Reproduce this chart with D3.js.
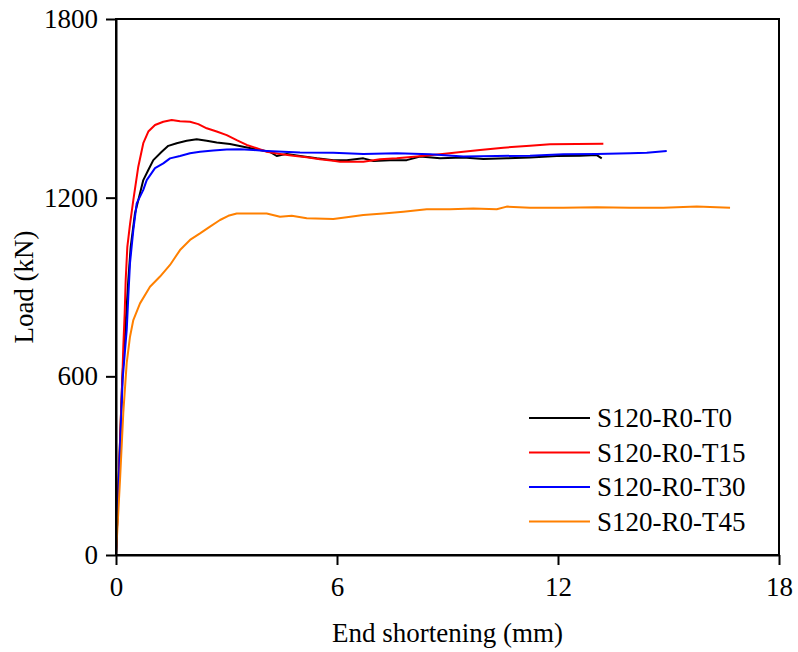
<!DOCTYPE html>
<meta charset="utf-8">
<script src="https://d3js.org/d3.v7.min.js"></script>
<style>
  body { margin: 0; background: #fff; }
  text { font-family: "Liberation Serif", "Times New Roman", serif; }
</style>
<div id="my_dataviz"></div>
<script>
// series names and colours
var names = ["S120-R0-T0", "S120-R0-T15", "S120-R0-T30", "S120-R0-T45"]
var colors = ["#000000", "#ff0000", "#0000ff", "#ff8000"]
var xTicks = [0, 6, 12, 18]
var yTicks = [0, 600, 1200, 1800]

// curves: [end shortening (mm), load (kN)]
var t0 = [[0,0],[0.17,590],[0.334,923],[0.399,1035],[0.516,1148],[0.652,1215],[0.741,1259],[0.877,1293],[1.013,1326],[1.241,1354],[1.42,1374],[1.648,1383],[1.92,1391],[2.191,1396],[2.463,1391],[2.734,1385],[3.095,1380],[3.456,1371],[3.82,1362],[4.181,1354],[4.363,1340],[4.635,1347],[4.996,1340],[5.449,1332],[5.9,1326],[6.264,1326],[6.715,1332],[6.986,1323],[7.44,1326],[7.893,1326],[8.254,1338],[8.797,1332],[9.43,1335],[9.973,1330],[10.608,1332],[11.241,1335],[11.966,1340],[12.599,1341],[13.052,1343],[13.188,1332]]
var t15 = [[0,0],[0.136,477],[0.171,588],[0.198,699],[0.236,813],[0.263,923],[0.307,1034],[0.38,1110],[0.47,1192],[0.605,1304],[0.741,1383],[0.877,1422],[1.059,1444],[1.284,1455],[1.512,1461],[1.738,1457],[2.009,1455],[2.235,1447],[2.463,1433],[2.734,1422],[3.006,1410],[3.277,1393],[3.549,1377],[3.82,1366],[4.092,1354],[4.453,1347],[4.814,1341],[5.178,1336],[5.539,1329],[5.9,1324],[6.082,1321],[6.715,1321],[7.168,1329],[7.622,1332],[8.165,1338],[8.797,1346],[9.43,1354],[9.883,1360],[10.516,1368],[11.241,1374],[11.784,1379],[12.509,1380],[13.231,1381]]
var t30 = [[0,0],[0.18,590],[0.291,756],[0.334,867],[0.38,980],[0.47,1091],[0.562,1181],[0.741,1226],[0.834,1259],[1.059,1299],[1.284,1315],[1.466,1332],[1.738,1340],[2.009,1349],[2.281,1354],[2.642,1358],[3.006,1362],[3.367,1363],[3.728,1360],[4.092,1357],[4.543,1354],[4.996,1352],[5.9,1351],[6.715,1347],[7.622,1349],[8.526,1346],[9.43,1338],[10.337,1340],[11.241,1341],[12.145,1346],[13.052,1347],[13.956,1349],[14.41,1351],[14.952,1357]]
var t45 = [[0,0],[0.109,252],[0.198,477],[0.291,645],[0.38,733],[0.47,789],[0.652,845],[0.923,901],[1.195,935],[1.466,974],[1.738,1024],[2.009,1058],[2.281,1080],[2.552,1103],[2.824,1125],[3.049,1139],[3.277,1147],[3.638,1147],[4.092,1147],[4.453,1136],[4.771,1139],[5.178,1131],[5.9,1128],[6.264,1134],[6.715,1142],[7.258,1147],[7.801,1153],[8.436,1161],[9.069,1161],[9.702,1164],[10.337,1161],[10.608,1170],[11.241,1166],[12.145,1166],[13.052,1168],[13.956,1166],[14.86,1166],[15.767,1170],[16.671,1166]]
var series = [t0, t15, t30, t45]

var width = 798
var height = 652
var margin = {top: 19, right: 19, bottom: 97, left: 116}
var w = width - margin.left - margin.right
var h = height - margin.top - margin.bottom
var serif = '"Liberation Serif", "Times New Roman", serif'

var svg = d3.select("#my_dataviz")
  .append("svg")
  .attr("width", width)
  .attr("height", height)
  .append("g")
  .attr("transform", "translate(" + margin.left + "," + margin.top + ")")

var x = d3.scaleLinear().domain([0, 18]).range([0, w])
var y = d3.scaleLinear().domain([0, 1800]).range([h, 0])

// curves
var line = d3.line()
  .x(function(d) { return x(d[0]) })
  .y(function(d) { return y(d[1]) })

svg.selectAll(".curve")
  .data(series)
  .enter()
  .append("path")
  .attr("class", "curve")
  .attr("d", line)
  .attr("fill", "none")
  .attr("stroke", function(d, i) { return colors[i] })
  .attr("stroke-width", 2)
  .attr("stroke-linejoin", "round")

// frame
svg.append("rect")
  .attr("width", w)
  .attr("height", h)
  .attr("fill", "none")
  .attr("stroke", "black")
  .attr("stroke-width", 2)

// axes
var xAxis = svg.append("g")
  .attr("transform", "translate(0," + h + ")")
  .call(d3.axisBottom(x).tickValues(xTicks).tickFormat(d3.format("d")).tickSize(10).tickSizeOuter(0).tickPadding(12))
var yAxis = svg.append("g")
  .call(d3.axisLeft(y).tickValues(yTicks).tickFormat(d3.format("d")).tickSize(10).tickSizeOuter(0).tickPadding(8))

;[xAxis, yAxis].forEach(function(a) {
  a.attr("font-family", serif).attr("font-size", 27)
  a.select(".domain").attr("stroke-width", 2)
  a.selectAll(".tick line").attr("stroke-width", 2)
  a.selectAll("text")
    .style("font-family", serif)
    .style("font-size", "27px")
    .attr("fill", "black")
})

// axis titles
svg.append("text")
  .attr("x", w / 2)
  .attr("y", h + 87)
  .attr("text-anchor", "middle")
  .style("font-size", "27px")
  .text("End shortening (mm)")

svg.append("text")
  .attr("transform", "translate(" + (33 - margin.left) + "," + (h / 2) + ") rotate(-90)")
  .attr("text-anchor", "middle")
  .style("font-size", "27px")
  .text("Load (kN)")

// legend
var legend = svg.selectAll(".legend")
  .data(names)
  .enter()
  .append("g")
  .attr("class", "legend")
  .attr("transform", function(d, i) { return "translate(" + (529 - margin.left) + "," + (418 - margin.top + i * 34.5) + ")" })

legend.append("line")
  .attr("x1", 0)
  .attr("x2", 61)
  .attr("stroke", function(d, i) { return colors[i] })
  .attr("stroke-width", 2)

legend.append("text")
  .attr("x", 68)
  .attr("dy", "0.35em")
  .style("font-size", "27px")
  .text(function(d) { return d })
</script>
